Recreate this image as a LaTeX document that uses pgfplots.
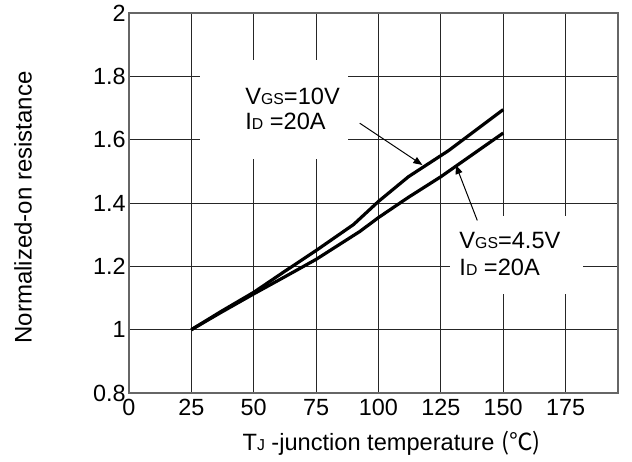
\documentclass[border=0pt]{standalone}
\usepackage{pgfplots}
\pgfplotsset{compat=1.18}
\usepackage{fontspec}
\setmainfont{Liberation Sans}
\newfontfamily\cjk{Noto Sans CJK SC}
\usetikzlibrary{arrows.meta}
\newcommand{\sm}[1]{{\fontsize{7.9}{8}\selectfont #1}}
\newcommand{\lab}{\fontsize{11.8}{13}\selectfont}
\newcommand{\tkl}{\fontsize{11.7}{12}\selectfont}
\begin{document}
\begin{tikzpicture}
\begin{axis}[
  scale only axis, width=244.5pt, height=190pt,
  at={(0,0)}, anchor=south west,
  xmin=0, xmax=196, ymin=0.8, ymax=2,
  xtick={0,25,50,75,100,125,150,175},
  xticklabels={0,25,50,75,100,125,150,175},
  ytick={0.8,1,1.2,1.4,1.6,1.8,2},
  yticklabels={0.8,1,1.2,1.4,1.6,1.8,2},
  grid=major,
  major grid style={black!85, line width=0.5pt},
  major tick length=0pt,
  axis line style={black!60, line width=0.6pt},
  xticklabel style={inner sep=3pt, font=\tkl},
  yticklabel style={inner sep=1.5pt, font=\tkl},
  xlabel={T\sm{J} -junction temperature {\cjk (℃)}},
  xlabel style={at={(rel axis cs:0.537,-0.15)}, anchor=base, font=\lab},
  ylabel={Normalized-on resistance},
  ylabel style={at={(rel axis cs:-0.199,0.488)}, anchor=base, font=\fontsize{12}{13}\selectfont},
]
\fill[white] (axis cs:28.4,1.54) rectangle (axis cs:87.7,1.853);
\fill[white] (axis cs:128.6,1.1125) rectangle (axis cs:181.8,1.36);
\addplot[black, line width=1.6pt, line join=round] coordinates {
(25,1.0) (37,1.058) (50,1.118) (62,1.182) (75,1.25) (90,1.332) (100,1.405) (112,1.483) (128,1.565) (150,1.695)};
\addplot[black, line width=1.6pt, line join=round] coordinates {
(25,1.0) (37,1.055) (50,1.113) (62,1.165) (75,1.222) (92.5,1.31) (100,1.354) (112,1.418) (125,1.483) (150,1.621)};
\draw[black, line width=0.5pt, -{Triangle[length=4.5pt, width=3.5pt]}] (axis cs:92.5,1.652) -- (axis cs:117.6,1.52);
\draw[black, line width=0.5pt, -{Triangle[length=4.5pt, width=3.5pt]}] (axis cs:139.6,1.345) -- (axis cs:131,1.52);
\node[anchor=base west, inner sep=0, font=\lab] at (axis cs:46.5,1.712) {V\sm{GS}=10V};
\node[anchor=base west, inner sep=0, font=\lab] at (axis cs:46.5,1.633) {I\sm{D} =20A};
\node[anchor=base west, inner sep=0, font=\lab] at (axis cs:132.3,1.256) {V\sm{GS}=4.5V};
\node[anchor=base west, inner sep=0, font=\lab] at (axis cs:132.3,1.17) {I\sm{D} =20A};
\end{axis}
\pgfresetboundingbox
\path[use as bounding box] (-64.5pt,-34pt) rectangle (251.5pt,196.5pt);
\end{tikzpicture}
\end{document}
